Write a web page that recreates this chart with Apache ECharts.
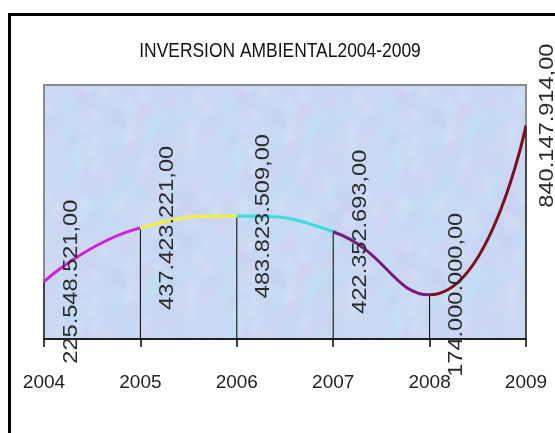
<!DOCTYPE html>
<html>
<head>
<meta charset="utf-8">
<script src="https://cdn.jsdelivr.net/npm/echarts@6/dist/echarts.min.js"></script>
<style>html,body{margin:0;padding:0;background:#fff;}#c{width:555px;height:433px;}</style>
</head>
<body>
<div id="c"></div>
<script>
const title = 'INVERSION AMBIENTAL2004-2009';
const years = ['2004', '2005', '2006', '2007', '2008', '2009'];
const values = [225548521, 437423221, 483823509, 422352693, 174000000, 840147914];
const valueLabels = ['225.548.521,00', '437.423.221,00', '483.823.509,00', '422.352.693,00', '174.000.000,00', '840.147.914,00'];
const segmentColors = ['#d420d4', '#f2f03a', '#36dee0', '#7c1a7c', '#7e0e1e'];

// soft mottled texture for the plot background (deterministic, decorative only)
function makeTexture() {
  const c = document.createElement('canvas');
  c.width = 160; c.height = 160;
  const g = c.getContext('2d');
  g.fillStyle = '#cad9f3';
  g.fillRect(0, 0, 160, 160);
  g.filter = 'blur(2px)';
  for (let k = 0; k < 160; k++) {
    const x = (Math.sin(k * 12.9898) * 43758.5453) % 1;
    const y = (Math.sin(k * 78.233) * 12345.6789) % 1;
    const px = Math.abs(x) * 160, py = Math.abs(y) * 160;
    const t = k % 4;
    g.fillStyle = t === 0 ? 'rgba(226,204,238,0.35)' : (t === 1 ? 'rgba(188,228,246,0.4)' : (t === 2 ? 'rgba(212,224,248,0.4)' : 'rgba(196,210,240,0.35)'));
    for (const dx of [-160, 0, 160]) for (const dy of [-160, 0, 160]) {
      g.beginPath();
      g.ellipse(px + dx, py + dy, 3 + (k % 4) * 1.5, 5 + (k % 5) * 2, 0.4, 0, Math.PI * 2);
      g.fill();
    }
  }
  return c;
}

const chart = echarts.init(document.getElementById('c'), null, {renderer: 'canvas'});
const pointData = values.map((v, i) => [i, v]);

chart.setOption({
  animation: false,
  backgroundColor: '#ffffff',
  graphic: [
    {
      type: 'text', silent: true, x: 280, y: 51, scaleX: 0.83,
      style: {text: title, font: '21px "Liberation Sans", Arial', fill: '#111', align: 'center', verticalAlign: 'middle'}
    },
    {
      type: 'rect', silent: true, z: 100,
      shape: {x: 9.5, y: 14.5, width: 600, height: 500},
      style: {fill: 'none', stroke: '#000', lineWidth: 3}
    }
  ],
  grid: {
    left: 44, right: 29, top: 85, bottom: 94,
    show: true, backgroundColor: {image: makeTexture(), repeat: 'repeat'}, borderColor: '#8a8a8a', borderWidth: 2
  },
  xAxis: {
    type: 'category', data: years, boundaryGap: false,
    axisLine: {lineStyle: {color: '#000', width: 1.5}},
    axisTick: {length: 8, lineStyle: {color: '#000', width: 1.5}},
    axisLabel: {margin: 34, color: '#222', fontSize: 19, fontFamily: '"Liberation Sans", Arial'},
    splitLine: {show: false}
  },
  yAxis: {type: 'value', min: 0, max: 1000000000, show: false, splitLine: {show: false}},
  visualMap: {
    type: 'piecewise', show: false, dimension: 0, seriesIndex: 1,
    pieces: [
      {gte: 0, lt: 1, color: segmentColors[0]},
      {gte: 1, lt: 2, color: segmentColors[1]},
      {gte: 2, lt: 3, color: segmentColors[2]},
      {gte: 3, lt: 4, color: segmentColors[3]},
      {gte: 4, lte: 5, color: segmentColors[4]}
    ]
  },
  series: [
    {
      type: 'custom', z: 1, silent: true,
      data: pointData,
      encode: {x: 0, y: 1},
      renderItem: function (params, api) {
        const p = api.coord([api.value(0), api.value(1)]);
        const b = api.coord([api.value(0), 0]);
        return {type: 'line', shape: {x1: p[0], y1: p[1], x2: b[0], y2: b[1]}, style: {stroke: '#000', lineWidth: 1}};
      }
    },
    {
      type: 'line', z: 3, smooth: 0.5, symbol: 'none',
      data: values,
      lineStyle: {width: 3}
    },
    {
      type: 'custom', z: 5, silent: true,
      data: pointData,
      encode: {x: 0, y: 1},
      renderItem: function (params, api) {
        const i = api.value(0);
        const p = api.coord([i, api.value(1)]);
        const x = Math.min(p[0] + 27, 547);
        return {
          type: 'text', x: x, y: p[1], rotation: Math.PI / 2, scaleX: 1.18,
          style: {text: valueLabels[i], fill: '#2a2a2a', font: '20px "Liberation Sans", Arial', align: 'center', verticalAlign: 'middle'}
        };
      }
    }
  ]
});
</script>
</body>
</html>
